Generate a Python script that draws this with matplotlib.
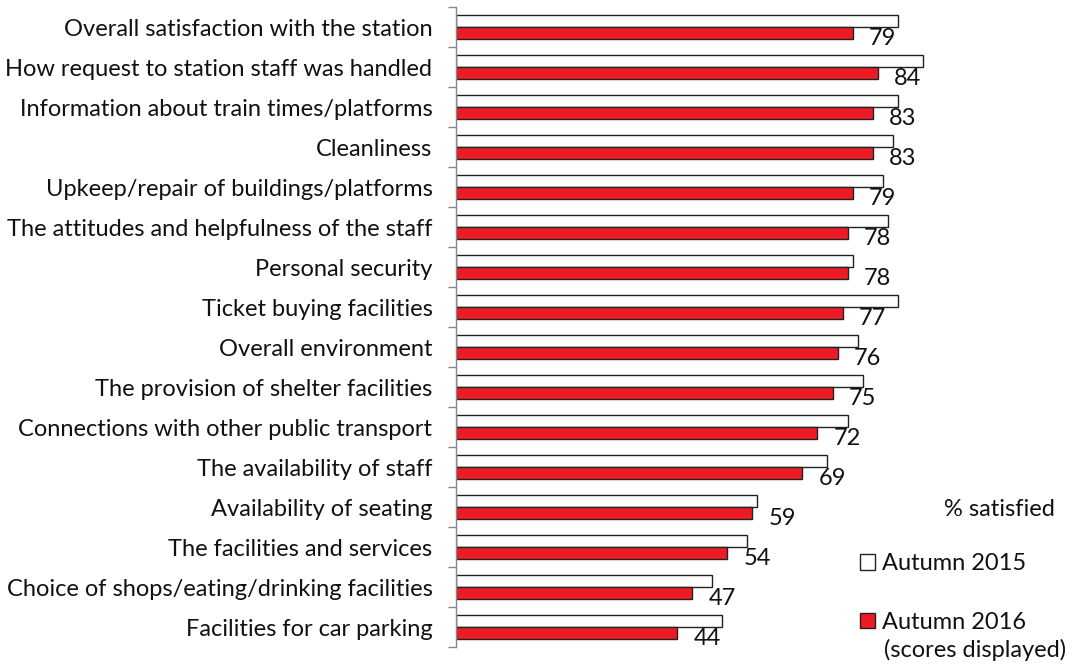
import matplotlib
matplotlib.use("Agg")
import matplotlib.pyplot as plt
from matplotlib.patches import Patch
import numpy as np

categories = [
    "Overall satisfaction with the station",
    "How request to station staff was handled",
    "Information about train times/platforms",
    "Cleanliness",
    "Upkeep/repair of buildings/platforms",
    "The attitudes and helpfulness of the staff",
    "Personal security",
    "Ticket buying facilities",
    "Overall environment",
    "The provision of shelter facilities",
    "Connections with other public transport",
    "The availability of staff",
    "Availability of seating",
    "The facilities and services",
    "Choice of shops/eating/drinking facilities",
    "Facilities for car parking",
]
autumn_2015 = [88, 93, 88, 87, 85, 86, 79, 88, 80, 81, 78, 74, 60, 58, 51, 53]
autumn_2016 = [79, 84, 83, 83, 79, 78, 78, 77, 76, 75, 72, 69, 59, 54, 47, 44]

plt.rcParams['font.family'] = ['Lato', 'DejaVu Sans']
FS = 17
RED = "#ED1C24"

fig = plt.figure(figsize=(10.75, 6.64), dpi=100)
ax = fig.add_axes([456/1075, 17/664, 502/1075, 640/664])

y = np.arange(len(categories))
h = 0.29
ax.barh(y - h/2, autumn_2015, height=h, color="white", edgecolor="#222222", linewidth=1.0, label="Autumn 2015")
ax.barh(y + h/2, autumn_2016, height=h, color=RED, edgecolor="#222222", linewidth=1.0, label="Autumn 2016")

for yi, v in zip(y, autumn_2016):
    ax.annotate(f"{v}", xy=(v, yi + h/2), xytext=(12, -4), textcoords="offset points",
                ha="left", va="center", fontsize=FS, color="#111111")

ax.set_xlim(0, 100)
ax.set_ylim(len(categories) - 0.5, -0.5)
ax.set_yticks(np.arange(len(categories) + 1) - 0.5, minor=False)
ax.set_yticklabels([])
ax.set_yticks(y, minor=True)
ax.set_yticklabels(categories, minor=True, fontsize=FS, color="#111111")
ax.tick_params(axis="y", which="minor", length=0, pad=17)
ax.tick_params(axis="y", which="major", length=6, color="#888888", width=1)
ax.set_xticks([])
for s in ["top", "right", "bottom"]:
    ax.spines[s].set_visible(False)
ax.spines["left"].set_color("#888888")
ax.spines["left"].set_linewidth(1)

fig.text(1055/1075, 1 - 510/664, "% satisfied", ha="right", va="center", fontsize=FS, color="#111111")
handles = [Patch(facecolor="white", edgecolor="#222222", linewidth=1),
           Patch(facecolor=RED, edgecolor="#222222", linewidth=1)]
leg = fig.legend(handles, ["Autumn 2015", "Autumn 2016"], loc="upper left",
                 bbox_to_anchor=(860/1075, 1 - 553/664), frameon=False, fontsize=FS,
                 handlelength=0.65, handleheight=0.65, handletextpad=0.3,
                 labelspacing=1.6, borderaxespad=0, borderpad=0)
for t in leg.get_texts():
    t.set_color("#111111")
fig.text(884/1075, 1 - 650/664, "(scores displayed)", ha="left", va="center", fontsize=FS, color="#111111")

fig.savefig("out.png", dpi=100)
